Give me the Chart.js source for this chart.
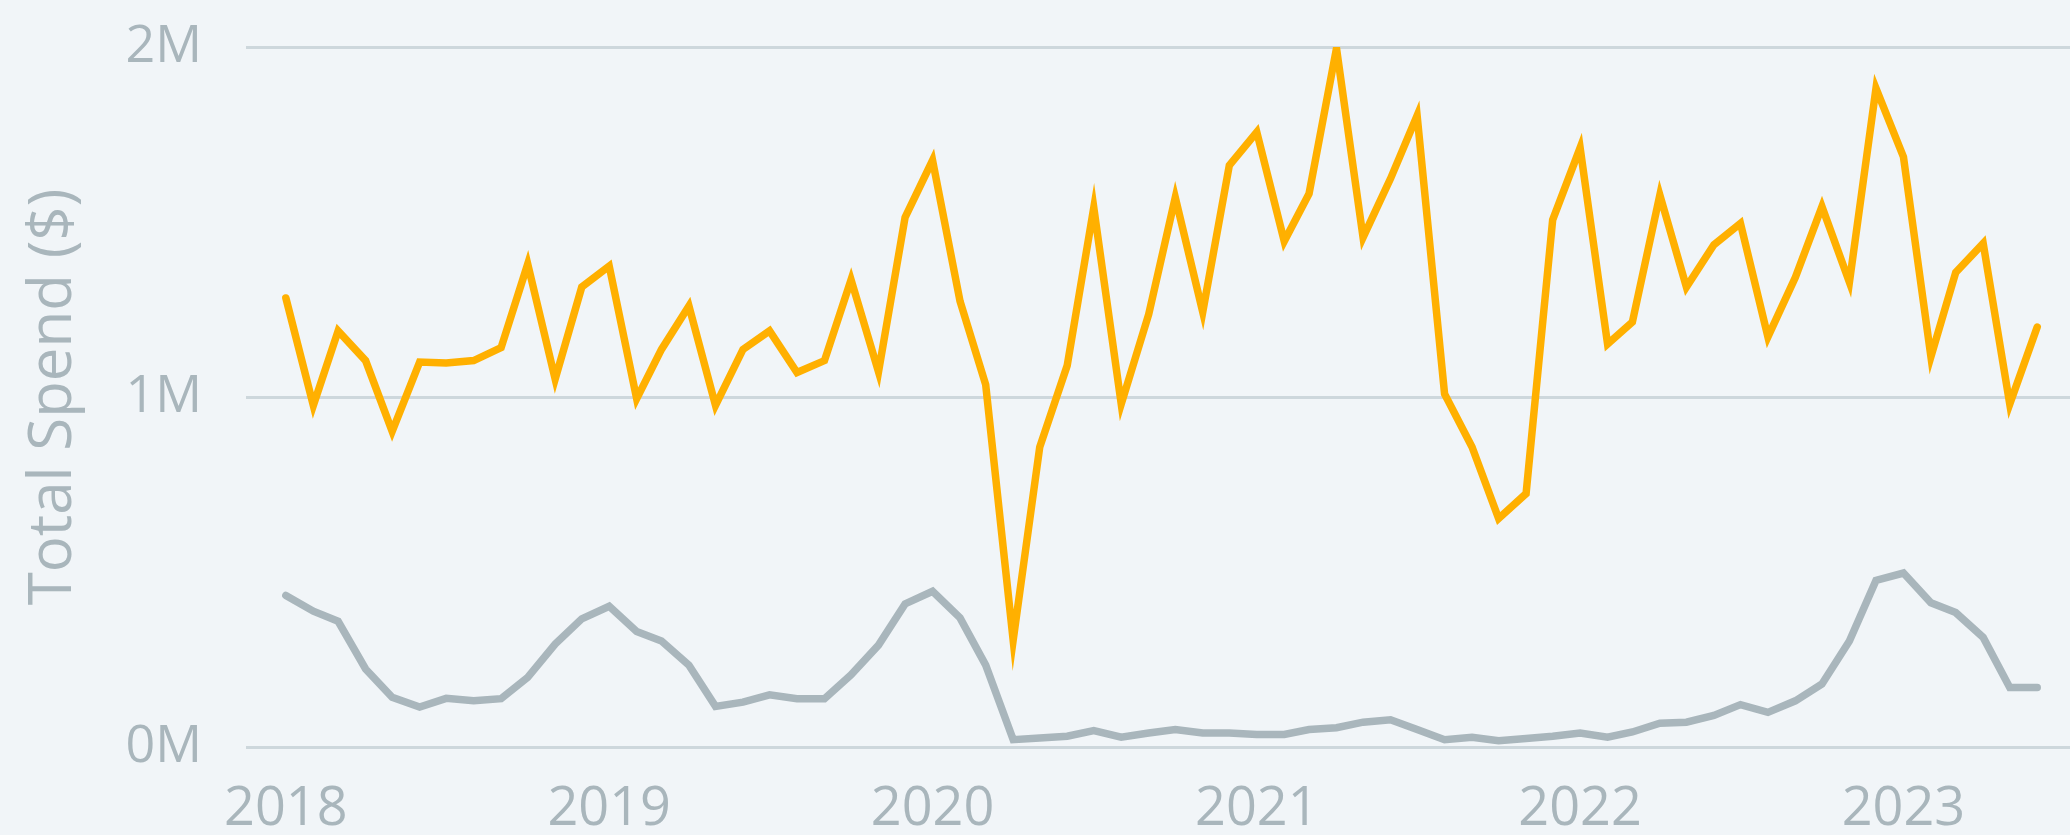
<!DOCTYPE html>
<html>
<head>
<meta charset="utf-8">
<script src="https://cdn.jsdelivr.net/npm/chart.js@4/dist/chart.umd.min.js"></script>
<style>
  html, body { margin: 0; padding: 0; background: #F1F5F8; }
  #wrap { width: 2070px; height: 835px; }
</style>
</head>
<body>
<div id="wrap"><canvas id="spendChart" width="2070" height="835"></canvas></div>
<script>
// monthly points, Jan 2018 - Jun 2023
var months = [
  '2018-01','2018-02','2018-03','2018-04','2018-05','2018-06','2018-07','2018-08','2018-09','2018-10','2018-11','2018-12',
  '2019-01','2019-02','2019-03','2019-04','2019-05','2019-06','2019-07','2019-08','2019-09','2019-10','2019-11','2019-12',
  '2020-01','2020-02','2020-03','2020-04','2020-05','2020-06','2020-07','2020-08','2020-09','2020-10','2020-11','2020-12',
  '2021-01','2021-02','2021-03','2021-04','2021-05','2021-06','2021-07','2021-08','2021-09','2021-10','2021-11','2021-12',
  '2022-01','2022-02','2022-03','2022-04','2022-05','2022-06','2022-07','2022-08','2022-09','2022-10','2022-11','2022-12',
  '2023-01','2023-02','2023-03','2023-04','2023-05','2023-06'
];

var spendOrange = [
  1283000, 976000, 1189000, 1104000, 902000, 1100000, 1097000, 1104000, 1141000, 1380000, 1051000, 1314000,
  1374000, 995000, 1136000, 1260000, 976000, 1136000, 1189000, 1070000, 1104000, 1335000, 1072000, 1513000,
  1676000, 1274000, 1035000, 305000, 857000, 1090000, 1541000, 980000, 1236000, 1570000, 1243000, 1662000,
  1757000, 1445000, 1581000, 1996000, 1456000, 1624000, 1804000, 1009000, 857000, 653000, 724000, 1506000,
  1712000, 1151000, 1214000, 1577000, 1314000, 1435000, 1496000, 1172000, 1342000, 1544000, 1328000, 1882000,
  1686000, 1115000, 1356000, 1439000, 980000, 1200000
];

var spendGrey = [
  433000, 388000, 359000, 223000, 142000, 114000, 139000, 132000, 138000, 199000, 294000, 366000,
  402000, 330000, 303000, 234000, 116000, 128000, 149000, 138000, 138000, 206000, 291000, 409000,
  445000, 369000, 234000, 21000, 26000, 31000, 47000, 28000, 40000, 50000, 40000, 40000,
  36000, 36000, 50000, 55000, 71000, 78000, 50000, 21000, 28000, 18000, 24000, 31000,
  40000, 28000, 43000, 68000, 71000, 90000, 121000, 99000, 132000, 180000, 303000, 476000,
  497000, 412000, 384000, 313000, 170000, 170000
];

var yearTicks = [2018, 2019, 2020, 2021, 2022, 2023];
var spendTicks = [0, 1000000, 2000000];

function dayNum(y, m) {
  return Date.UTC(y, m, 1) / 86400000;
}
function monthDay(s) {
  var p = s.split('-');
  return dayNum(+p[0], +p[1] - 1);
}
function toPoints(vals) {
  return vals.map(function (v, i) { return { x: monthDay(months[i]), y: v }; });
}

var textGrey = '#A9B6BC';
var gridGrey = '#CDD7DC';

var ctx = document.getElementById('spendChart').getContext('2d');
var chart = new Chart(ctx, {
  type: 'line',
  data: {
    datasets: [{
      data: toPoints(spendGrey),
      borderColor: '#A9B6BC',
      borderWidth: 7.5,
      borderCapStyle: 'round',
      pointRadius: 0,
      tension: 0
    }, {
      data: toPoints(spendOrange),
      borderColor: '#FFB000',
      borderWidth: 7.5,
      borderCapStyle: 'round',
      pointRadius: 0,
      tension: 0
    }]
  },
  options: {
    responsive: false,
    animation: false,
    layout: { padding: { top: 47, right: 0, bottom: 0, left: 0 } },
    plugins: {
      legend: { display: false },
      tooltip: { enabled: false }
    },
    scales: {
      x: {
        type: 'linear',
        min: monthDay(months[0]) - 45,
        max: monthDay(months[months.length - 1]) + 37,
        afterBuildTicks: function (scale) {
          scale.ticks = yearTicks.map(function (y) { return { value: dayNum(y, 0) }; });
        },
        afterFit: function (scale) {
          scale.height = 88;
          scale.paddingLeft = 0;
          scale.paddingRight = 0;
        },
        grid: { display: false },
        border: { display: false },
        ticks: {
          autoSkip: false,
          maxRotation: 0,
          padding: 22,
          color: textGrey,
          font: { family: 'Open Sans', size: 54 },
          callback: function (v) { return new Date(v * 86400000).getUTCFullYear(); }
        }
      },
      y: {
        min: 0,
        max: 2000000,
        afterBuildTicks: function (scale) {
          scale.ticks = spendTicks.map(function (v) { return { value: v }; });
        },
        afterFit: function (scale) {
          scale.width = 246;
          scale.paddingTop = 0;
          scale.paddingBottom = 0;
        },
        grid: { color: gridGrey, lineWidth: 3, drawTicks: false },
        border: { display: false },
        ticks: {
          padding: 44,
          color: textGrey,
          font: { family: 'Open Sans', size: 52 },
          callback: function (v) { return (v / 1000000) + 'M'; }
        },
        title: {
          display: true,
          text: 'Total Spend ($)',
          color: textGrey,
          font: { family: 'Open Sans', size: 60 },
          padding: { top: 18, bottom: 0 }
        }
      }
    }
  }
});
</script>
</body>
</html>
